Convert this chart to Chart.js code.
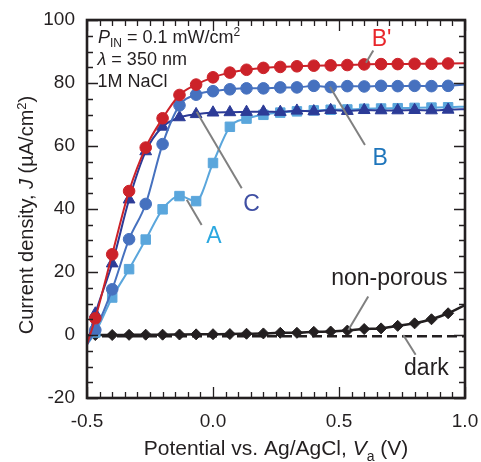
<!DOCTYPE html>
<html><head><meta charset="utf-8">
<script src="https://cdn.jsdelivr.net/npm/chart.js@4.4.0/dist/chart.umd.min.js"></script>
<style>html,body{margin:0;padding:0;background:#fff}#wrap{width:481px;height:462px}</style>
</head><body><div id="wrap"><canvas id="c" width="481" height="462"></canvas></div>
<script>
// Applied potential (V vs Ag/AgCl); first and last entries are curve end points without markers
const voltage = [-0.5, -0.467, -0.4, -0.333, -0.267, -0.2, -0.133, -0.067, 0, 0.067, 0.133, 0.2, 0.267, 0.333, 0.4, 0.467, 0.533, 0.6, 0.667, 0.733, 0.8, 0.867, 0.933, 1.0];
const jBprime = [-3, 5.3, 25.6, 45.7, 59.5, 68.8, 76.2, 79.5, 81.8, 83.3, 84.2, 84.8, 85.1, 85.3, 85.5, 85.6, 85.7, 85.9, 86.0, 86.0, 86.1, 86.1, 86.2, 86.3];
const jB      = [-3, 1.6, 14.5, 30.4, 41.6, 60.6, 72.9, 76.3, 77.4, 78.0, 78.3, 78.3, 78.6, 78.6, 79.1, 78.7, 79.0, 78.9, 79.1, 79.0, 79.1, 79.0, 79.1, 79.5];
const jC      = [-3, 6.8, 22.7, 43.0, 58.3, 66.1, 69.1, 70.1, 70.6, 70.7, 70.8, 70.9, 70.8, 71.2, 71.0, 71.4, 71.1, 71.4, 71.3, 71.3, 71.4, 71.3, 71.5, 71.7];
const jA      = [-3, 0.8, 11.9, 20.9, 30.3, 39.9, 44.1, 42.5, 54.6, 66.1, 68.7, 69.9, 70.6, 71.0, 71.3, 71.5, 71.6, 71.8, 71.9, 72.0, 72.1, 72.2, 72.3, 72.5];
const jNonPorous = [-0.1, 0.0, 0.0, 0.05, 0.1, 0.1, 0.15, 0.2, 0.25, 0.3, 0.4, 0.5, 0.7, 0.7, 1.0, 1.1, 1.4, 1.9, 2.1, 2.9, 3.7, 5.0, 6.9, 9.5];
const darkVoltage = [-0.5, 1.0];
const jDark = [-0.4, -0.4];

const xTickValues = [-0.5, 0.0, 0.5, 1.0];
const yTickValues = [-20, 0, 20, 40, 60, 80, 100];

// curve labels and leader lines (data coordinates)
const curveLabels = [
  {text: "B'", x: 0.669, y: 93.7, color: '#e8262b'},
  {text: 'B', x: 0.663, y: 56.0, color: '#1e75bb'},
  {text: 'C', x: 0.153, y: 41.3, color: '#3f4fa3'},
  {text: 'A', x: 0.004, y: 31.3, color: '#2ba8e0'},
  {text: 'non-porous', x: 0.700, y: 17.9, color: '#231f20'},
  {text: 'dark', x: 0.847, y: -10.8, color: '#231f20'}
];
const leaderLines = [
  {x1: 0.636, y1: 90.3, x2: 0.607, y2: 86.4},
  {x1: 0.464, y1: 78.8, x2: 0.603, y2: 60.3},
  {x1: -0.065, y1: 70.9, x2: 0.114, y2: 46.6},
  {x1: -0.104, y1: 42.9, x2: -0.045, y2: 34.9},
  {x1: 0.616, y1: 12.2, x2: 0.537, y2: 1.6},
  {x1: 0.755, y1: 0.0, x2: 0.804, y2: -6.3}
];

const FONT = '"Liberation Sans", Arial, Helvetica, sans-serif';
const TXT = '#231f20';

function pts(xs, ys) { return xs.map((v, i) => ({x: v, y: ys[i]})); }
const isEnd = ctx => ctx.dataIndex === 0 || ctx.dataIndex === voltage.length - 1;

function series(label, ys, color, style, r, bw) {
  return {
    label, data: pts(voltage, ys),
    borderColor: color, backgroundColor: color, borderWidth: bw || 2,
    pointStyle: style,
    pointRadius: ctx => isEnd(ctx) ? 0 : r,
    pointBorderWidth: 1, pointBorderColor: color, pointBackgroundColor: color,
    cubicInterpolationMode: 'monotone', fill: false
  };
}

function drawRuns(ctx, runs, x, y, align) {
  let total = 0;
  runs.forEach(r => {
    ctx.font = (r.it ? 'italic ' : '') + r.sz + 'px ' + FONT;
    r.w = ctx.measureText(r.t).width; total += r.w;
  });
  let cx = align === 'center' ? x - total / 2 : x;
  ctx.textAlign = 'left';
  ctx.textBaseline = 'alphabetic';
  runs.forEach(r => {
    ctx.font = (r.it ? 'italic ' : '') + r.sz + 'px ' + FONT;
    ctx.fillText(r.t, cx, y + (r.dy || 0));
    cx += r.w;
  });
}

const decor = {
  id: 'decor',
  afterDatasetsDraw(chart) {
    const ctx = chart.ctx, a = chart.chartArea;
    const xs = chart.scales.x, ys = chart.scales.y;
    ctx.save();
    // leader lines
    ctx.strokeStyle = '#808080'; ctx.lineWidth = 2; ctx.lineCap = 'butt';
    leaderLines.forEach(l => {
      ctx.beginPath();
      ctx.moveTo(xs.getPixelForValue(l.x1), ys.getPixelForValue(l.y1));
      ctx.lineTo(xs.getPixelForValue(l.x2), ys.getPixelForValue(l.y2));
      ctx.stroke();
    });
    // curve labels
    ctx.textAlign = 'center'; ctx.textBaseline = 'middle';
    ctx.font = '23px ' + FONT;
    curveLabels.forEach(t => {
      ctx.fillStyle = t.color;
      ctx.fillText(t.text, xs.getPixelForValue(t.x), ys.getPixelForValue(t.y));
    });
    // ticks (inward) on all four sides
    ctx.strokeStyle = '#231f20'; ctx.lineWidth = 1.3;
    const xMinor = 0.05, yMinor = 5;
    for (let k = 0; k <= 30; k++) {
      const v = -0.5 + k * xMinor;
      const px = Math.round(xs.getPixelForValue(v)) + 0.5;
      const major = xTickValues.some(t => Math.abs(t - v) < 1e-6);
      const len = major ? 11 : 6;
      ctx.beginPath();
      ctx.moveTo(px, a.bottom); ctx.lineTo(px, a.bottom - len);
      ctx.moveTo(px, a.top); ctx.lineTo(px, a.top + len);
      ctx.stroke();
    }
    for (let k = 0; k <= 24; k++) {
      const v = -20 + k * yMinor;
      const py = Math.round(ys.getPixelForValue(v)) + 0.5;
      const major = yTickValues.includes(v);
      const len = major ? 11 : 6;
      ctx.beginPath();
      ctx.moveTo(a.left, py); ctx.lineTo(a.left + len, py);
      ctx.moveTo(a.right, py); ctx.lineTo(a.right - len, py);
      ctx.stroke();
    }
    // frame
    ctx.lineWidth = 2.6; ctx.strokeStyle = '#231f20';
    ctx.strokeRect(a.left, a.top, a.right - a.left, a.bottom - a.top);
    // conditions text
    ctx.fillStyle = TXT;
    drawRuns(ctx, [{t: 'P', it: true, sz: 18}, {t: 'IN', sz: 12, dy: 4}, {t: ' = 0.1 mW/cm', sz: 18}, {t: '2', sz: 12, dy: -7}], 98, 43.3);
    drawRuns(ctx, [{t: '\u03bb', it: true, sz: 18}, {t: ' = 350 nm', sz: 18}], 97.5, 65);
    drawRuns(ctx, [{t: '1M NaCl', sz: 18}], 97.5, 87);
    ctx.restore();
  },
  afterDraw(chart) {
    const ctx = chart.ctx, a = chart.chartArea;
    ctx.save();
    ctx.fillStyle = TXT;
    // x title
    drawRuns(ctx, [{t: 'Potential vs. Ag/AgCl, ', sz: 21}, {t: 'V', it: true, sz: 21}, {t: 'a', sz: 14, dy: 6}, {t: ' (V)', sz: 21}], (a.left + a.right) / 2, 455, 'center');
    // y title
    ctx.translate(33, 215);
    ctx.rotate(-Math.PI / 2);
    drawRuns(ctx, [{t: 'Current density, ', sz: 20}, {t: 'J', it: true, sz: 20}, {t: ' (\u00b5A/cm', sz: 20}, {t: '2', sz: 13, dy: -7}, {t: ')', sz: 20}], 0, 0, 'center');
    ctx.restore();
  }
};

new Chart(document.getElementById('c'), {
  type: 'line',
  data: {
    datasets: [
      series("B'", jBprime, '#cc2229', 'circle', 5.8),
      series('B', jB, '#4671bf', 'circle', 5.8),
      series('C', jC, '#2c3b97', 'triangle', 6.8),
      series('A', jA, '#5aa6dc', 'rect', 6.7),
      series('non-porous', jNonPorous, '#231f20', 'rectRot', 5.5, 2.5),
      {label: 'dark', data: pts(darkVoltage, jDark), borderColor: '#231f20', borderWidth: 2.4,
       borderDash: [10, 5], pointRadius: 0, fill: false}
    ]
  },
  options: {
    responsive: false, animation: false, devicePixelRatio: 1,
    layout: {padding: {left: 0, right: 16, top: 20, bottom: 0}},
    plugins: {legend: {display: false}, tooltip: {enabled: false}},
    scales: {
      x: {
        type: 'linear', min: -0.5, max: 1.0,
        afterBuildTicks: s => { s.ticks = xTickValues.map(v => ({value: v})); },
        afterFit: s => { s.height = 64; s.paddingLeft = 0; s.paddingRight = 0; },
        grid: {display: false, drawTicks: false}, border: {display: false},
        ticks: {font: {size: 19, family: FONT}, color: TXT, padding: 12, maxRotation: 0,
                callback: v => Number(v).toFixed(1)}
      },
      y: {
        type: 'linear', min: -20, max: 100,
        afterBuildTicks: s => { s.ticks = yTickValues.map(v => ({value: v})); },
        afterFit: s => { s.width = 87; s.paddingTop = 0; s.paddingBottom = 0; },
        grid: {display: false, drawTicks: false}, border: {display: false},
        ticks: {font: {size: 19, family: FONT}, color: TXT, padding: 12,
                callback: v => String(v)}
      }
    }
  },
  plugins: [decor]
});
</script>
</body></html>
